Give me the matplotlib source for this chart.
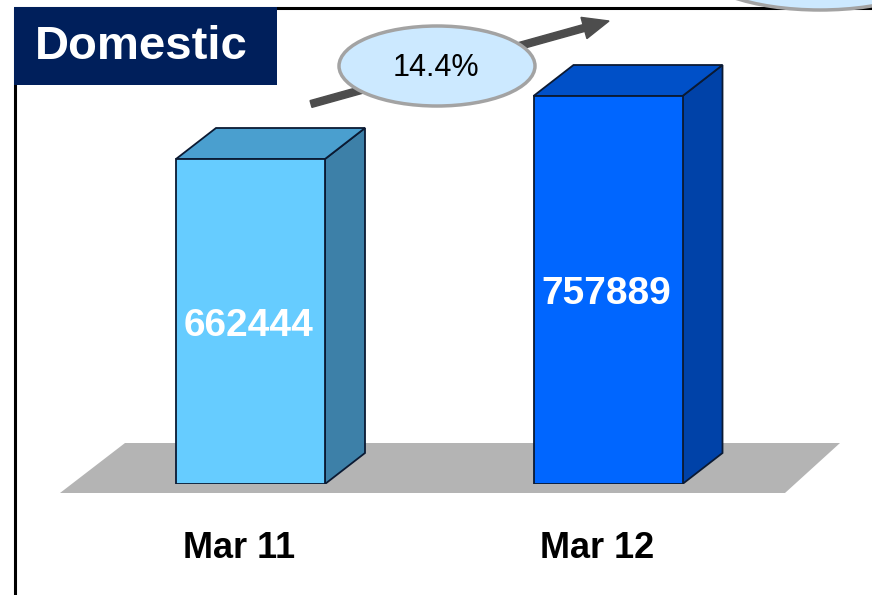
import matplotlib
matplotlib.use("Agg")
import matplotlib.pyplot as plt
import matplotlib.transforms as mtransforms
from matplotlib.patches import Polygon, Ellipse, Rectangle, FancyArrow

plt.rcParams['font.family'] = ['Liberation Sans', 'DejaVu Sans']

# ---- data ----
categories = ["Mar 11", "Mar 12"]
values = [662444, 757889]
growth_label = "14.4%"
title = "Domestic"

front_colors = ["#66ccff", "#0066ff"]
top_colors = ["#4a9fcf", "#0050c8"]
side_colors = ["#3d80a8", "#0042a8"]
edge = "#0b1a33"

W, H = 872, 595
fig = plt.figure(figsize=(W / 100, H / 100), dpi=100)

# decoration layer in pixel coordinates
ax0 = fig.add_axes([0, 0, 1, 1])
ax0.set_xlim(0, W)
ax0.set_ylim(H, 0)
ax0.axis('off')

# floor
ax0.add_patch(Polygon([(125, 443), (840, 443), (785, 493), (60, 493)], closed=True,
                      fc="#b4b4b4", ec="none", zorder=1))

# frame
ax0.plot([14, W], [8, 8], color="black", lw=2.2, zorder=2, solid_capstyle='butt')
ax0.plot([15, 15], [8, H], color="black", lw=2.2, zorder=2, solid_capstyle='butt')

# title box
ax0.add_patch(Rectangle((14, 7), 263, 78, fc="#001f5b", ec="none", zorder=3))
ax0.text(141, 47, title, color="white", fontsize=34, fontweight="bold",
         ha="center", va="center", zorder=4)

# top-right partial ellipse
ax0.add_patch(Ellipse((820, -35), 250, 90, fc="#cce9ff", ec="#a3a3a3", lw=2.5, zorder=5))

# arrow + growth ellipse
ax0.add_patch(FancyArrow(311, 104, 298, -83, width=7, head_width=22, head_length=26,
                         length_includes_head=True, color="#4d4d4d", zorder=5))
ax0.add_patch(Ellipse((437, 66), 196, 80, fc="#cce9ff", ec="#a3a3a3", lw=2.5, zorder=6))
ax0.text(436, 68, growth_label, fontsize=22, ha="center", va="center", zorder=7)

# ---- bar axes ----
base = 170000
k = 325 / (values[0] - base)          # pixels per unit
ax = fig.add_axes([0, (H - 484) / H, 1, 484 / H])
ax.set_xlim(-250.5 / 357.5, (W - 250.5) / 357.5)
ax.set_ylim(base, base + 484 / k)
ax.patch.set_alpha(0)
for s in ax.spines.values():
    s.set_visible(False)
ax.set_yticks([])
ax.set_xticks(range(len(categories)))
ax.set_xticklabels(categories, fontsize=26, fontweight="bold")
ax.tick_params(axis='x', length=0, pad=34)
shift = mtransforms.ScaledTranslation(-11 / 100, 0, fig.dpi_scale_trans)
for lab in ax.get_xticklabels():
    lab.set_transform(lab.get_transform() + shift)

bw = 149 / 357.5
dx = 40 / 357.5
dy = 31 / k
down = mtransforms.ScaledTranslation(-2 / 100, -4 / 100, fig.dpi_scale_trans)
for i, v in enumerate(values):
    x0, x1 = i - bw / 2, i + bw / 2
    front = [(x0, base), (x1, base), (x1, v), (x0, v)]
    top = [(x0, v), (x1, v), (x1 + dx, v + dy), (x0 + dx, v + dy)]
    side = [(x1, base), (x1 + dx, base + dy), (x1 + dx, v + dy), (x1, v)]
    ax.add_patch(Polygon(side, closed=True, fc=side_colors[i], ec=edge, lw=1.3, zorder=2))
    ax.add_patch(Polygon(top, closed=True, fc=top_colors[i], ec=edge, lw=1.3, zorder=2))
    ax.add_patch(Polygon(front, closed=True, fc=front_colors[i], ec=edge, lw=1.3, zorder=3))
    ax.text(i, (base + v) / 2, f"{v}", color="white", fontsize=28, fontweight="bold",
            ha="center", va="center", zorder=4, transform=ax.transData + down)

fig.savefig("out.png", dpi=100)
